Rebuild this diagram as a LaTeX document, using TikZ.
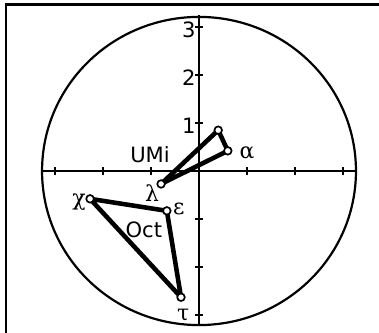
\documentclass[tikz,border=0pt]{standalone}
\usepackage{fontspec}
\setmainfont{DejaVu Sans}
\newfontfamily\grk{DejaVu Serif}
\usetikzlibrary{calc}
\tikzstyle{star}=[circle, draw, fill=white, line width=1pt, inner sep=0pt, minimum size=4.5pt]
\tikzstyle{lbl}=[inner sep=0pt, font=\fontsize{12.5}{14}\selectfont]
\tikzstyle{glbl}=[inner sep=0pt, font=\fontsize{13}{15}\selectfont\grk]

\begin{document}
\begin{tikzpicture}[line width=1.3pt]
        \useasboundingbox (-4.146,-3.375) rectangle (3.75,3.5625);
        \draw[line width=1.6pt] (-4.02,-3.375) -- (-4.02,3.47) -- (3.75,3.47);
        \draw (0,0) ellipse (3.27 and 3.21);
        \draw (-3.27,0) -- (3.27,0);
        \draw (0,-3.2) -- (0,3.24);
        \foreach \k in {-3,-2,-1,1,2,3} {
            \draw (\k,-0.08) -- (\k,0.08);
            \draw (-0.08,\k) -- (0.08,\k);
        }
        \foreach \k in {1,2,3}
            \node[lbl, anchor=east] (n\k) at (-0.05,\k-0.06) {\k};
        \coordinate (alpha) at (0.60,0.42);
        \coordinate (delta) at (0.40,0.85);
        \coordinate (lambda) at (-0.79,-0.27);
        \coordinate (chi) at (-2.27,-0.58);
        \coordinate (eps) at (-0.67,-0.83);
        \coordinate (tau) at (-0.375,-2.63);
        \draw[line width=2.7pt, line join=round] (alpha) -- (delta) -- (lambda) -- cycle;
        \draw[line width=2.7pt, line join=round] (chi) -- (eps) -- (tau) -- cycle;
        \foreach \s in {alpha, delta, lambda, chi, eps, tau}
            \node[star] at (\s) {};
        \node[lbl] (umi) at (-1.02,0.35) {UMi};
        \node[lbl] (oct) at (-1.15,-1.23) {Oct};
        \node[glbl] (la) at (1.0,0.375) {α};
        \node[glbl] (ll) at (-0.98,-0.46) {λ};
        \node[glbl] (lc) at (-2.5,-0.65) {χ};
        \node[glbl] (le) at (-0.42,-0.79) {ε};
        \node[glbl] (lt) at (-0.33,-3.0) {τ};
    \end{tikzpicture}
\end{document}
